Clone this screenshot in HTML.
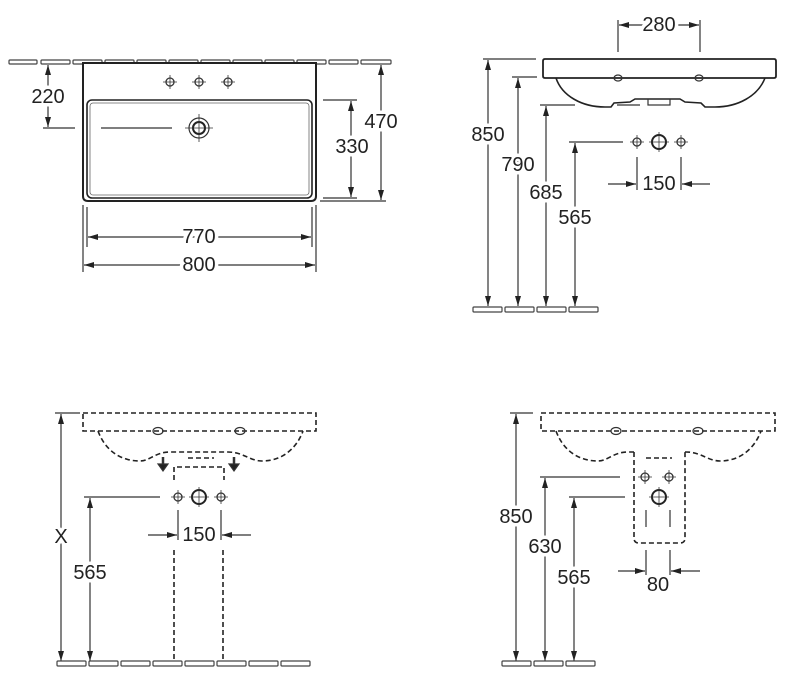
<!DOCTYPE html>
<html><head><meta charset="utf-8"><style>
html,body{margin:0;padding:0;background:#fff}
svg{display:block}
text{font-family:"Liberation Sans",sans-serif;font-size:20px;fill:#222;text-anchor:middle;dominant-baseline:central;paint-order:stroke;stroke:#fff;stroke-width:7px}
</style></head><body>
<svg width="800" height="690" viewBox="0 0 800 690" xmlns="http://www.w3.org/2000/svg">
<defs>
<marker id="a" viewBox="0 0 10 6" refX="10" refY="3" markerWidth="10" markerHeight="6" markerUnits="userSpaceOnUse" orient="auto-start-reverse"><path d="M0,0L10,3L0,6z" fill="#222"/></marker>
<g id="tap"><circle r="4" fill="none" stroke="#333" stroke-width="1.3"/><path d="M-7,0H7M0,-7V7" stroke="#333" stroke-width="0.8"/></g>
<g id="big"><circle r="7" fill="none" stroke="#222" stroke-width="2"/><path d="M-10,0H10M0,-10V10" stroke="#333" stroke-width="0.8"/></g>
</defs>
<g stroke="#333" fill="none" stroke-width="1.2">
<g fill="#fff" stroke="#444" stroke-width="1.2">
<rect x="9" y="60" width="28" height="4" rx="1"/><rect x="41" y="60" width="29" height="4" rx="1"/><rect x="73" y="60" width="29" height="4" rx="1"/><rect x="105" y="60" width="29" height="4" rx="1"/><rect x="137" y="60" width="29" height="4" rx="1"/><rect x="169" y="60" width="29" height="4" rx="1"/><rect x="201" y="60" width="29" height="4" rx="1"/><rect x="233" y="60" width="29" height="4" rx="1"/><rect x="265" y="60" width="29" height="4" rx="1"/><rect x="297" y="60" width="29" height="4" rx="1"/><rect x="329" y="60" width="29" height="4" rx="1"/><rect x="361" y="60" width="30" height="4" rx="1"/>
</g>
<path d="M83,63V196Q83,201 88,201H311Q316,201 316,196V63Z" fill="#fff" stroke="#222" stroke-width="2"/>
<rect x="87" y="100" width="225" height="98" rx="5" stroke="#222" stroke-width="1.6"/>
<rect x="90" y="103" width="219" height="92" rx="3" stroke="#666" stroke-width="0.8"/>
<use href="#tap" x="170" y="82"/><use href="#tap" x="199" y="82"/><use href="#tap" x="228" y="82"/>
<circle cx="199" cy="128" r="6" stroke="#222" stroke-width="2"/><circle cx="199" cy="128" r="10" stroke="#333"/>
<path d="M185,128H213M199,114V142" stroke-width="0.8"/>
<path d="M101,128H172"/>
<path d="M43,128H75"/>
<line x1="48" y1="65" x2="48" y2="127" marker-start="url(#a)" marker-end="url(#a)"/>
<path d="M323,100H357M323,198H357"/>
<line x1="351" y1="101" x2="351" y2="197" marker-start="url(#a)" marker-end="url(#a)"/>
<path d="M320,201H386"/>
<line x1="381" y1="65" x2="381" y2="200" marker-start="url(#a)" marker-end="url(#a)"/>
<path d="M87,207V247M312,207V247M83,205V272M316,205V272"/>
<line x1="88" y1="237" x2="311" y2="237" marker-start="url(#a)" marker-end="url(#a)"/>
<line x1="84" y1="265" x2="315" y2="265" marker-start="url(#a)" marker-end="url(#a)"/>

<path d="M618,20V52M700,20V52"/>
<line x1="619" y1="25" x2="699" y2="25" marker-start="url(#a)" marker-end="url(#a)"/>
<path d="M545,59H774Q776,59 776,61V76Q776,78 774,78H545Q543,78 543,76V61Q543,59 545,59Z" stroke="#222" stroke-width="1.8"/>
<path d="M556,78C562,96 582,107 605,107L611,107L614,103L630,102L635,99L680,99L685,102L701,103L705,107L715,107C738,107 758,96 765,78" stroke="#222" stroke-width="1.6"/>
<rect x="648" y="99" width="22" height="6" stroke-width="1.2"/>
<ellipse cx="618" cy="78" rx="4" ry="3"/><ellipse cx="699" cy="78" rx="4" ry="3"/>
<path d="M483,59H536M512,77H537M540,105H575M617,105H640M569,142H623"/>
<line x1="488" y1="60" x2="488" y2="306" marker-start="url(#a)" marker-end="url(#a)"/>
<line x1="518" y1="78" x2="518" y2="306" marker-start="url(#a)" marker-end="url(#a)"/>
<line x1="546" y1="106" x2="546" y2="306" marker-start="url(#a)" marker-end="url(#a)"/>
<line x1="575" y1="143" x2="575" y2="306" marker-start="url(#a)" marker-end="url(#a)"/>
<g fill="#fff" stroke="#444" stroke-width="1.2"><rect x="473" y="307" width="29" height="5" rx="1"/><rect x="505" y="307" width="29" height="5" rx="1"/><rect x="537" y="307" width="29" height="5" rx="1"/><rect x="569" y="307" width="29" height="5" rx="1"/></g>
<use href="#tap" x="637" y="142"/><use href="#big" x="659" y="142"/><use href="#tap" x="681" y="142"/>
<path d="M637,157V190M681,157V190"/>
<line x1="608" y1="184" x2="636" y2="184" marker-end="url(#a)"/>
<line x1="710" y1="184" x2="682" y2="184" marker-end="url(#a)"/>

<g stroke-dasharray="5,3" stroke="#222" stroke-width="1.6">
<path d="M83,413H316V431H83Z"/>
<path d="M98,431C105,450 120,461 140,461C150,461 155,452 170,452L228,452C243,452 250,461 262,461C285,461 298,445 303,431"/>
<path d="M188,458H214"/>
<path d="M174,480V467H224V480"/>
<path d="M174,550V662M223,550V662"/>
</g>
<path d="M55,413H80"/>
<line x1="61" y1="414" x2="61" y2="661" marker-start="url(#a)" marker-end="url(#a)"/>
<ellipse cx="158" cy="431" rx="5" ry="3.5"/><ellipse cx="240" cy="431" rx="5" ry="3.5"/>
<path d="M163,457V465" stroke-width="2.5"/><path d="M158,464L168,464L163,471Z" fill="#222"/>
<path d="M234,457V465" stroke-width="2.5"/><path d="M229,464L239,464L234,471Z" fill="#222"/>
<use href="#tap" x="178" y="497"/><use href="#big" x="199" y="497"/><use href="#tap" x="221" y="497"/>
<path d="M178,510V540M221,510V540"/>
<line x1="148" y1="535" x2="177" y2="535" marker-end="url(#a)"/>
<line x1="251" y1="535" x2="222" y2="535" marker-end="url(#a)"/>
<path d="M84,497H160"/>
<line x1="90" y1="498" x2="90" y2="661" marker-start="url(#a)" marker-end="url(#a)"/>
<g fill="#fff" stroke="#444" stroke-width="1.2"><rect x="57" y="661" width="29" height="5" rx="1"/><rect x="89" y="661" width="29" height="5" rx="1"/><rect x="121" y="661" width="29" height="5" rx="1"/><rect x="153" y="661" width="29" height="5" rx="1"/><rect x="185" y="661" width="29" height="5" rx="1"/><rect x="217" y="661" width="29" height="5" rx="1"/><rect x="249" y="661" width="29" height="5" rx="1"/><rect x="281" y="661" width="29" height="5" rx="1"/></g>

<g stroke-dasharray="5,3" stroke="#222" stroke-width="1.6">
<path d="M541,413H775V431H541Z"/>
<path d="M556,431C563,450 578,461 598,461C608,461 613,452 628,452L634,452M685,452L686,452C701,452 708,461 720,461C743,461 756,445 761,431"/>
<path d="M646,458H672"/>
<path d="M634,452V538Q634,543 639,543H680Q685,543 685,538V452"/>
</g>
<path d="M510,413H533"/>
<line x1="516" y1="414" x2="516" y2="661" marker-start="url(#a)" marker-end="url(#a)"/>
<ellipse cx="616" cy="431" rx="5" ry="3.5"/><ellipse cx="698" cy="431" rx="5" ry="3.5"/>
<use href="#tap" x="645" y="477"/><use href="#tap" x="669" y="477"/><use href="#big" x="659" y="497"/>
<path d="M646,510V527M670,510V527"/>
<path d="M540,477H620M569,497H625"/>
<line x1="545" y1="478" x2="545" y2="661" marker-start="url(#a)" marker-end="url(#a)"/>
<line x1="574" y1="498" x2="574" y2="661" marker-start="url(#a)" marker-end="url(#a)"/>
<path d="M646,550V575M670,550V575"/>
<line x1="618" y1="571" x2="645" y2="571" marker-end="url(#a)"/>
<line x1="700" y1="571" x2="671" y2="571" marker-end="url(#a)"/>
<g fill="#fff" stroke="#444" stroke-width="1.2"><rect x="502" y="661" width="29" height="5" rx="1"/><rect x="534" y="661" width="29" height="5" rx="1"/><rect x="566" y="661" width="29" height="5" rx="1"/></g>
</g>
<text x="48" y="97">220</text>
<text x="352" y="147">330</text>
<text x="381" y="122">470</text>
<text x="199" y="237">770</text>
<text x="199" y="265">800</text>
<text x="659" y="25">280</text>
<text x="488" y="135">850</text>
<text x="518" y="165">790</text>
<text x="546" y="193">685</text>
<text x="575" y="218">565</text>
<text x="659" y="184">150</text>
<text x="61" y="537">X</text>
<text x="90" y="573">565</text>
<text x="199" y="535">150</text>
<text x="516" y="517">850</text>
<text x="545" y="547">630</text>
<text x="574" y="578">565</text>
<text x="658" y="585">80</text>
</svg>
</body></html>
